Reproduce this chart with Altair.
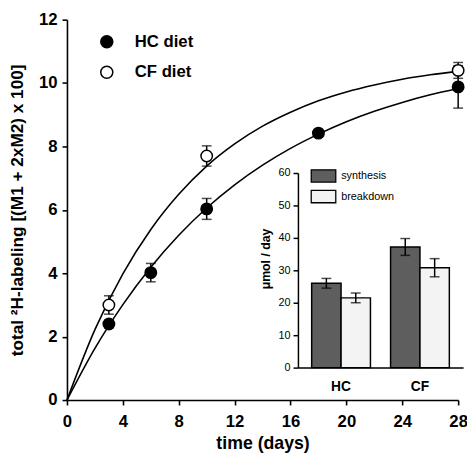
import altair as alt
import pandas as pd

# ---- main panel data ----
days_hc = [3, 6, 10, 18, 28]
hc_mean = [2.40, 4.02, 6.03, 8.42, 9.88]
hc_err = [0.12, 0.29, 0.33, 0.08, 0.67]

days_cf = [3, 10, 28]
cf_mean = [3.00, 7.70, 10.40]
cf_err = [0.29, 0.32, 0.25]

# fitted curves
curve_days = [0, 2, 4, 6, 8, 10, 12, 14, 16, 18, 20, 22, 24, 26, 28]
hc_curve = [0, 1.63, 3.01, 4.19, 5.20, 6.06, 6.79, 7.41, 7.94, 8.39, 8.78, 9.11, 9.39, 9.63, 9.83]
cf_curve = [0, 2.22, 3.98, 5.38, 6.49, 7.38, 8.08, 8.64, 9.08, 9.44, 9.72, 9.94, 10.12, 10.26, 10.37]

series = ["HC diet", "CF diet"]
x_ticks = [0, 4, 8, 12, 16, 20, 24, 28]
y_ticks = [0, 2, 4, 6, 8, 10, 12]

# ---- inset data ----
groups = ["HC", "CF"]
rates = ["synthesis", "breakdown"]
syn_vals = [26.0, 37.2]
syn_err = [1.5, 2.6]
brk_vals = [21.5, 30.8]
brk_err = [1.5, 2.8]
inset_ticks = [0, 10, 20, 30, 40, 50, 60]

FONT = "Liberation Sans"

pts = pd.DataFrame(
    [{"day": d, "val": m, "lo": m - e, "hi": m + e, "series": "HC diet"} for d, m, e in zip(days_hc, hc_mean, hc_err)]
    + [{"day": d, "val": m, "lo": m - e, "hi": m + e, "series": "CF diet"} for d, m, e in zip(days_cf, cf_mean, cf_err)]
)
curves = pd.DataFrame(
    [{"day": d, "val": v, "series": "HC diet"} for d, v in zip(curve_days, hc_curve)]
    + [{"day": d, "val": v, "series": "CF diet"} for d, v in zip(curve_days, cf_curve)]
)
bars = pd.DataFrame(
    [{"group": g, "rate": "synthesis", "v": v, "lo": v - e, "hi": v + e} for g, v, e in zip(groups, syn_vals, syn_err)]
    + [{"group": g, "rate": "breakdown", "v": v, "lo": v - e, "hi": v + e} for g, v, e in zip(groups, brk_vals, brk_err)]
)

xs = alt.Scale(domain=[0, 28], nice=False, zero=False)
ys = alt.Scale(domain=[0, 12], nice=False)

x_axis = alt.Axis(values=x_ticks, title="time (days)", labelFont=FONT, labelFontSize=17, labelFontWeight="bold",
                  labelColor="black", titleFont=FONT, titleFontSize=18, titleFontWeight="bold", titleColor="black",
                  domainColor="black", domainWidth=1.6, tickColor="black", tickWidth=1.6, tickSize=5,
                  labelPadding=9, titlePadding=5, grid=False, labelFlush=False)
y_axis = alt.Axis(values=y_ticks, title="total \u00b2H-labeling [(M1 + 2xM2) x 100]", labelFont=FONT, labelFontSize=17,
                  labelFontWeight="bold", labelColor="black", titleFont=FONT, titleFontSize=17.5, titleFontWeight="bold",
                  titleColor="black", domainColor="black", domainWidth=1.6, tickColor="black", tickWidth=1.6,
                  tickSize=5, labelPadding=5, titlePadding=12, grid=False)

lines = alt.Chart(curves).mark_line(color="black", strokeWidth=1.6, interpolate="monotone").encode(
    x=alt.X("day:Q", scale=xs, axis=x_axis),
    y=alt.Y("val:Q", scale=ys, axis=y_axis),
    detail="series:N",
)
err = alt.Chart(pts).mark_rule(color="black", strokeWidth=1.5).encode(
    x=alt.X("day:Q", scale=xs), y=alt.Y("lo:Q", scale=ys), y2="hi:Q"
)
cap_lo = alt.Chart(pts).mark_tick(color="black", orient="horizontal", size=10, thickness=1.5).encode(
    x=alt.X("day:Q", scale=xs), y=alt.Y("lo:Q", scale=ys)
)
cap_hi = alt.Chart(pts).mark_tick(color="black", orient="horizontal", size=10, thickness=1.5).encode(
    x=alt.X("day:Q", scale=xs), y=alt.Y("hi:Q", scale=ys)
)
points = alt.Chart(pts).mark_point(filled=True, stroke="black", strokeWidth=1.5, size=135, opacity=1).encode(
    x=alt.X("day:Q", scale=xs),
    y=alt.Y("val:Q", scale=ys),
    fill=alt.Fill("series:N", scale=alt.Scale(domain=series, range=["black", "white"]),
                  legend=alt.Legend(title=None, orient="none", legendX=32, legendY=14, padding=0,
                                    symbolType="circle", symbolSize=150, symbolStrokeColor="black",
                                    symbolStrokeWidth=1.5, labelFont=FONT, labelFontSize=17,
                                    labelFontWeight="bold", labelColor="black", labelOffset=20,
                                    rowPadding=12)),
)
main = alt.layer(lines, err, cap_lo, cap_hi, points)

# ---- inset ----
ix = alt.Scale(domain=groups, range=[235, 403], paddingInner=0.255, paddingOuter=0.174)
iy = alt.Scale(domain=[0, 60], range=[354, 156], nice=False)
ixo = alt.Scale(domain=rates, paddingInner=0, paddingOuter=0)

ix_axis = alt.Axis(orient="bottom", offset=-33, title=None, ticks=False, labelFont=FONT, labelFontSize=14,
                   labelFontWeight="bold", labelColor="black", labelPadding=12, domainColor="black",
                   domainWidth=1.5, labelAngle=0)
iy_axis = alt.Axis(orient="left", offset=-235, values=inset_ticks, title="\u03bcmol / day", labelFont=FONT,
                   labelFontSize=11, labelColor="black", titleFont=FONT, titleFontSize=12.5, titleFontWeight="bold",
                   titleColor="black", domainColor="black", domainWidth=1.5, tickColor="black", tickWidth=1.5,
                   tickSize=5, labelPadding=3, titlePadding=6, titleY=243, grid=False)

ibars = alt.Chart(bars).mark_bar(stroke="black", strokeWidth=1.5).encode(
    x=alt.X("group:N", scale=ix, axis=ix_axis, sort=groups),
    xOffset=alt.XOffset("rate:N", scale=ixo, sort=rates),
    y=alt.Y("v:Q", scale=iy, axis=iy_axis),
    fill=alt.Fill("rate:N", scale=alt.Scale(domain=rates, range=["#5e5e5e", "#f3f3f3"]),
                  legend=alt.Legend(title=None, orient="none", legendX=254, legendY=152, padding=0,
                                    symbolType="M-2,-1H2V1H-2Z", symbolSize=156, symbolStrokeColor="black",
                                    symbolStrokeWidth=1.3, labelFont=FONT, labelFontSize=11,
                                    labelColor="black", labelOffset=11, rowPadding=3)),
)
ierr = alt.Chart(bars).mark_rule(color="black", strokeWidth=1.5).encode(
    x=alt.X("group:N", scale=ix, sort=groups), xOffset=alt.XOffset("rate:N", scale=ixo, sort=rates),
    y=alt.Y("lo:Q", scale=iy), y2="hi:Q"
)
icap_lo = alt.Chart(bars).mark_tick(color="black", size=10, thickness=1.5).encode(
    x=alt.X("group:N", scale=ix, sort=groups), xOffset=alt.XOffset("rate:N", scale=ixo, sort=rates),
    y=alt.Y("lo:Q", scale=iy)
)
icap_hi = alt.Chart(bars).mark_tick(color="black", size=10, thickness=1.5).encode(
    x=alt.X("group:N", scale=ix, sort=groups), xOffset=alt.XOffset("rate:N", scale=ixo, sort=rates),
    y=alt.Y("hi:Q", scale=iy)
)
inset = alt.layer(ibars, ierr, icap_lo, icap_hi)

chart = alt.layer(main, inset).resolve_scale(
    x="independent", y="independent", fill="independent", xOffset="independent"
).properties(
    width=398, height=387,
    autosize=alt.AutoSizeParams(type="none"),
    padding={"left": 60, "top": 8, "right": 9, "bottom": 51},
    background="white",
).configure_view(stroke=None)

chart.save("out.html", embed_options={"renderer": "svg", "actions": False})
